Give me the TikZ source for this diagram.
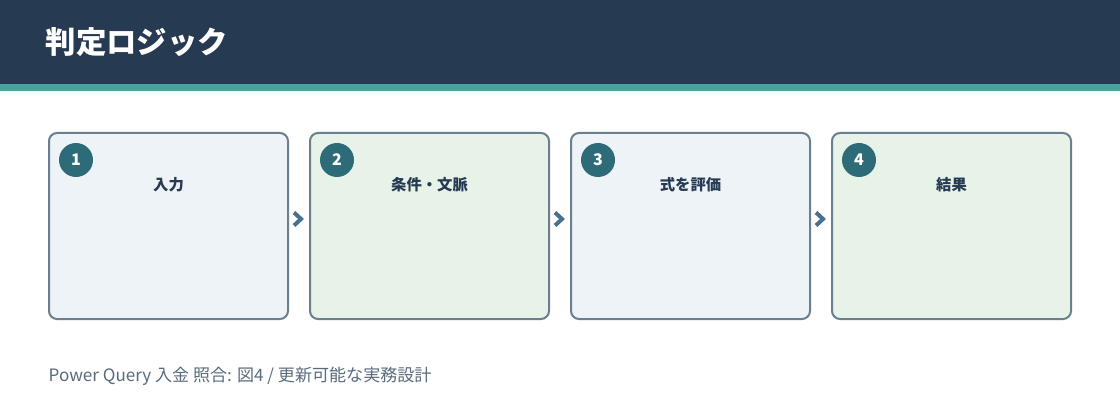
\documentclass[tikz,border=0pt]{standalone}
\usepackage{fontspec}
\setmainfont{Noto Sans CJK JP}
\definecolor{hdr}{HTML}{263A52}
\definecolor{strip}{HTML}{4AA39A}
\definecolor{bord}{HTML}{6B7F8F}
\definecolor{fillA}{HTML}{EEF3F8}
\definecolor{fillB}{HTML}{E7F2E8}
\definecolor{numc}{HTML}{2E6B78}
\definecolor{arrc}{HTML}{4A7090}
\definecolor{txt}{HTML}{263A52}
\definecolor{foot}{HTML}{5A6B7B}
\tikzset{
  stepbox/.style={draw=bord, line width=1.5pt, rounded corners=6pt, minimum width=179.25pt, minimum height=139.5pt, inner sep=0pt},
  numdot/.style={circle, fill=numc, minimum size=25.5pt, inner sep=0pt, text=white, font=\fontsize{12}{12}\selectfont\bfseries},
  steplabel/.style={text=txt, font=\fontsize{11.5}{12}\selectfont\bfseries},
}
\begin{document}
\begin{tikzpicture}[x=0.75pt,y=-0.75pt]
\useasboundingbox (0,0) rectangle (1120,420);
\fill[white] (0,0) rectangle (1120,420);
\fill[hdr] (0,0) rectangle (1120,84);
\fill[strip] (0,84) rectangle (1120,91);
\node[anchor=west, text=white, font=\fontsize{22.8}{24}\selectfont\bfseries] (title) at (41,42) {判定ロジック};
\foreach \i/\x/\f/\t in {1/48/fillA/入力, 2/309/fillB/条件・文脈, 3/570/fillA/式を評価, 4/831/fillB/結果}{
  \node[stepbox, fill=\f, anchor=north west] (b\i) at (\x,132) {};
  \node[numdot] (n\i) at (\x+28,160) {\i};
  \node[steplabel] (l\i) at (\x+120.5,185) {\t};
}
\foreach \a/\b in {1/2,2/3,3/4}{
  \path (b\a.east) -- (b\b.west) coordinate[pos=0.5] (m\a\b);
  \draw[arrc, line width=3pt, line cap=butt, line join=miter] ([shift={(-5,-13.5)}]m\a\b) -- ([shift={(2,-7)}]m\a\b) -- ([shift={(-5,-0.5)}]m\a\b);
}
\node[anchor=west, text=foot, font=\fontsize{12.8}{14}\selectfont] (footer) at (44,376) {Power Query 入金 照合: 図4 / 更新可能な実務設計};
\end{tikzpicture}
\end{document}
